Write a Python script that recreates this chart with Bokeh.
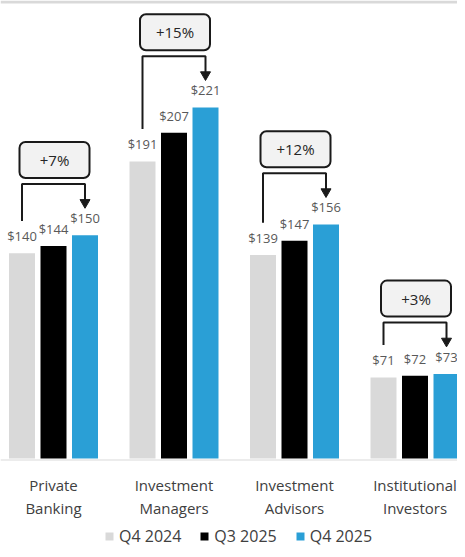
from bokeh.plotting import figure
from bokeh.models import ColumnDataSource, Range1d, Legend, LegendItem, Span
from bokeh.core.properties import value
from bokeh.embed import file_html
from bokeh.resources import INLINE

# ---- data ----
categories = ["Private\nBanking", "Investment\nManagers", "Investment\nAdvisors", "Institutional\nInvestors"]
series = ["Q4 2024", "Q3 2025", "Q4 2025"]
q4_2024 = [140, 191, 139, 71]
q3_2025 = [144, 207, 147, 72]
q4_2025 = [150, 221, 156, 73]
growth = ["+7%", "+15%", "+12%", "+3%"]

colors = ["#d9d9d9", "#000000", "#2a9fd6"]
FONT = value("Open Sans")

# ---- scales ----
W, H = 457, 549
PX_X = 120.5   # px per category
PX_Y = 1.8     # px per $
BASE_PX = 458  # baseline position from top
base = 26      # value at the baseline
y0 = base - (H - BASE_PX) / PX_Y
y1 = base + BASE_PX / PX_Y
x0 = -53 / PX_X
x1 = x0 + W / PX_X

p = figure(width=W, height=H, x_range=Range1d(x0, x1), y_range=Range1d(y0, y1),
           output_backend="svg", toolbar_location=None, min_border=0,
           x_axis_location=None, y_axis_location=None, outline_line_color=None)
p.grid.visible = False

idx = list(range(len(categories)))
off = 31.5 / PX_X
bw = 26 / PX_X

renderers = []
for k, vals in enumerate([q4_2024, q3_2025, q4_2025]):
    xs = [i + (k - 1) * off for i in idx]
    src = ColumnDataSource(dict(x=xs, top=vals, lab=["$%d" % v for v in vals],
                                ly=[v + 4.5 for v in vals]))
    r = p.vbar(x="x", top="top", bottom=base, width=bw, source=src,
               fill_color=colors[k], line_color=None)
    renderers.append(r)
    p.text(x="x", y="ly", text="lab", source=src, text_align="center",
           text_baseline="bottom", text_font=FONT, text_font_size="13px",
           text_color="#595959")

# baseline and top rule
p.add_layout(Span(location=base - 1.5 / PX_Y, dimension="width",
                  line_color="#d9d9d9", line_width=1))
p.add_layout(Span(location=y1 - 1.5 / PX_Y, dimension="width", line_color="#d9d9d9", line_width=3))

# category labels (two lines)
line1 = [c.split("\n")[0] for c in categories]
line2 = [c.split("\n")[1] for c in categories]
p.text(x=idx, y=[base - 26 / PX_Y] * 4, text=line1, text_align="center",
       text_baseline="middle", text_font=FONT, text_font_size="15px", text_color="#404040")
p.text(x=idx, y=[base - 49 / PX_Y] * 4, text=line2, text_align="center",
       text_baseline="middle", text_font=FONT, text_font_size="15px", text_color="#404040")

# growth brackets + boxes
bx_xs, bx_ys, tips_x, tips_y = [], [], [], []
box_l, box_r, box_b, box_t, box_cy = [], [], [], [], []
for i in idx:
    gx = i - off
    rx = i + off
    yb = q4_2025[i] + 28.5
    left_bottom = q4_2024[i] + 18
    tip = q4_2025[i] + 16
    bx_xs.append([gx, gx, rx, rx])
    bx_ys.append([left_bottom, yb, yb, tip + 6 / PX_Y])
    tips_x.append(rx)
    tips_y.append(tip + 4 / PX_Y)
    cx = i + 1 / PX_X
    box_l.append(cx - 35 / PX_X)
    box_r.append(cx + 35 / PX_X)
    box_b.append(yb + 6 / PX_Y)
    box_t.append(yb + 42 / PX_Y)
    box_cy.append(yb + 24 / PX_Y)

p.multi_line(xs=bx_xs, ys=bx_ys, line_color="#1a1a1a", line_width=2)
p.scatter(x=tips_x, y=tips_y, marker="inverted_triangle", size=10,
          fill_color="#1a1a1a", line_color="#1a1a1a")
p.quad(left=box_l, right=box_r, bottom=box_b, top=box_t, fill_color="#f2f2f2",
       line_color="#1a1a1a", line_width=2, border_radius=6)
p.text(x=[i + 1 / PX_X for i in idx], y=box_cy, text=growth, text_align="center",
       text_baseline="middle", text_font=FONT, text_font_size="15px", text_color="#262626")

legend = Legend(items=[LegendItem(label=s, renderers=[r]) for s, r in zip(series, renderers)],
                orientation="horizontal", location=(104, 2), glyph_width=10, glyph_height=10,
                label_standoff=5, spacing=18, padding=0, margin=0, border_line_color=None,
                background_fill_alpha=0, label_text_font="Open Sans", label_text_font_size="16px",
                label_text_color="#404040", label_height=18)
p.add_layout(legend)

open("out.html", "w").write(file_html(p, INLINE))
